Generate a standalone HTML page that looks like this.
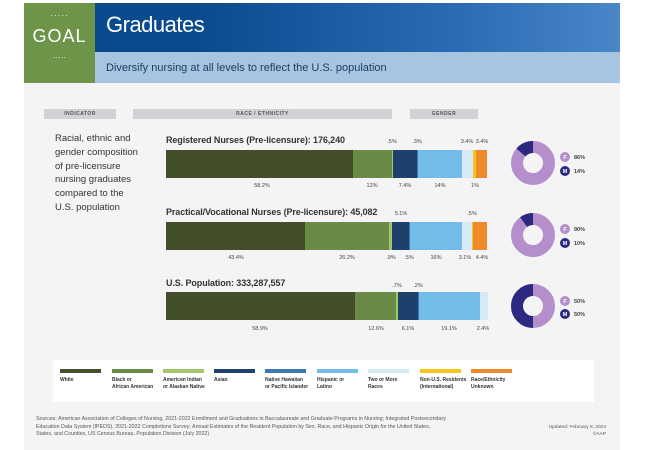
<!DOCTYPE html><html><head><style>
body{margin:0;width:650px;height:450px;background:#fff;font-family:"Liberation Sans",sans-serif;position:relative;overflow:hidden}
.a{position:absolute}
.hd{background:#d0d2d5;font-size:5px;font-weight:bold;color:#555;text-align:center;line-height:10px;letter-spacing:.5px}
.ti{font-size:9px;font-weight:bold;color:#333;letter-spacing:-.1px}
.lg{font-size:5px;color:#333;line-height:7px;font-weight:bold;white-space:nowrap}
.sw{height:4px;width:41px}
</style></head><body>
<div class="a" style="left:24px;top:83px;width:596px;height:367px;background:#f4f4f4"></div>
<div class="a" style="left:24px;top:3px;width:71px;height:80px;background:#6d9448;color:#fff;text-align:center">
<div style="font-size:8px;margin-top:8px;letter-spacing:1px">·····</div>
<div style="font-size:18px;margin-top:6px;letter-spacing:1px">GOAL</div>
<div style="font-size:8px;margin-top:6px">·····</div></div>
<div class="a" style="left:95px;top:3px;width:525px;height:49px;background:linear-gradient(90deg,#0a4a8f 20%,#2b6cb4 70%,#4a86c8)"></div>
<div class="a" style="left:106px;top:12px;color:#fff;font-size:22px;letter-spacing:-.5px">Graduates</div>
<div class="a" style="left:95px;top:52px;width:525px;height:31px;background:#a6c5e0"></div>
<div class="a" style="left:106px;top:62px;color:#1f3e62;font-size:11px">Diversify nursing at all levels to reflect the U.S. population</div>
<div class="a hd" style="left:44px;top:109px;width:72px">INDICATOR</div>
<div class="a hd" style="left:133px;top:109px;width:259px">RACE / ETHNICITY</div>
<div class="a hd" style="left:410px;top:109px;width:68px">GENDER</div>
<div class="a" style="left:55px;top:132px;font-size:9.5px;line-height:13.8px;color:#333;width:100px">Racial, ethnic and<br>gender composition<br>of pre-licensure<br>nursing graduates<br>compared to the<br>U.S. population</div>

<div class="a ti" style="left:166px;top:135px">Registered Nurses (Pre-licensure): 176,240</div>
<svg class="a" style="left:0;top:0" width="650" height="450">
<g>
<rect x="166" y="150" width="187" height="28" fill="#434f2a"/><rect x="353" y="150" width="39" height="28" fill="#6a8a48"/><rect x="392" y="150" width="1" height="28" fill="#a5c66b"/><rect x="393" y="150" width="24" height="28" fill="#1d416b"/><rect x="417" y="150" width="1" height="28" fill="#3a78b0"/><rect x="418" y="150" width="44" height="28" fill="#73bbe8"/><rect x="462" y="150" width="11" height="28" fill="#d4eaf7"/><rect x="473" y="150" width="3" height="28" fill="#f4c51b"/><rect x="476" y="150" width="11" height="28" fill="#ee8a2a"/>
<rect x="166" y="222" width="139" height="28" fill="#434f2a"/><rect x="305" y="222" width="84" height="28" fill="#6a8a48"/><rect x="389" y="222" width="3" height="28" fill="#a5c66b"/><rect x="392" y="222" width="17" height="28" fill="#1d416b"/><rect x="409" y="222" width="1" height="28" fill="#3a78b0"/><rect x="410" y="222" width="52" height="28" fill="#73bbe8"/><rect x="462" y="222" width="10" height="28" fill="#d4eaf7"/><rect x="472" y="222" width="1" height="28" fill="#f4c51b"/><rect x="473" y="222" width="14" height="28" fill="#ee8a2a"/>
<rect x="166" y="292" width="189" height="28" fill="#434f2a"/><rect x="355" y="292" width="41" height="28" fill="#6a8a48"/><rect x="396" y="292" width="2" height="28" fill="#a5c66b"/><rect x="398" y="292" width="20" height="28" fill="#1d416b"/><rect x="418" y="292" width="1" height="28" fill="#3a78b0"/><rect x="419" y="292" width="61" height="28" fill="#73bbe8"/><rect x="480" y="292" width="8" height="28" fill="#d4eaf7"/>
</g>
<g font-size="5.5" fill="#444" font-family="Liberation Sans" text-anchor="middle">
<text x="262" y="187">58.2%</text><text x="372" y="187">12%</text><text x="405" y="187">7.4%</text><text x="440" y="187">14%</text><text x="475" y="187">1%</text>
<text x="392" y="143">.5%</text><text x="417" y="143">.3%</text><text x="467" y="143">3.4%</text><text x="482" y="143">3.4%</text>
<text x="236" y="259">43.4%</text><text x="347" y="259">26.2%</text><text x="391" y="259">.9%</text><text x="409" y="259">.5%</text><text x="436" y="259">16%</text><text x="465" y="259">3.1%</text><text x="482" y="259">4.4%</text>
<text x="401" y="215">5.1%</text><text x="472" y="215">.5%</text>
<text x="260" y="330">58.9%</text><text x="376" y="330">12.6%</text><text x="408" y="330">6.1%</text><text x="449" y="330">19.1%</text><text x="483" y="330">2.4%</text>
<text x="397" y="287">.7%</text><text x="418" y="287">.2%</text>
</g>
<g fill="none" stroke-width="12">
<circle cx="533" cy="163" r="16" stroke="#b58fcb"/>
<path d="M533 147 A16 16 0 0 0 520.9 152.5" stroke="#2c2a80"/>
<circle cx="533" cy="235" r="16" stroke="#b58fcb"/>
<path d="M533 219 A16 16 0 0 0 523.6 222.1" stroke="#2c2a80"/>
<circle cx="533" cy="306" r="16" stroke="#b58fcb"/>
<path d="M533 290 A16 16 0 0 0 533 322" stroke="#2c2a80"/>
</g>
<g font-size="5.5" font-family="Liberation Sans" font-weight="bold">
<circle cx="565" cy="157" r="5" fill="#b58fcb"/><text x="565" y="159" fill="#fff" text-anchor="middle">F</text><text x="574" y="159" fill="#444">86%</text>
<circle cx="565" cy="171" r="5" fill="#2c2a80"/><text x="565" y="173" fill="#fff" text-anchor="middle">M</text><text x="574" y="173" fill="#444">14%</text>
<circle cx="565" cy="229" r="5" fill="#b58fcb"/><text x="565" y="231" fill="#fff" text-anchor="middle">F</text><text x="574" y="231" fill="#444">90%</text>
<circle cx="565" cy="243" r="5" fill="#2c2a80"/><text x="565" y="245" fill="#fff" text-anchor="middle">M</text><text x="574" y="245" fill="#444">10%</text>
<circle cx="565" cy="301" r="5" fill="#b58fcb"/><text x="565" y="303" fill="#fff" text-anchor="middle">F</text><text x="574" y="303" fill="#444">50%</text>
<circle cx="565" cy="314" r="5" fill="#2c2a80"/><text x="565" y="316" fill="#fff" text-anchor="middle">M</text><text x="574" y="316" fill="#444">50%</text>
</g>
</svg>
<div class="a ti" style="left:166px;top:207px">Practical/Vocational Nurses (Pre-licensure): 45,082</div>
<div class="a ti" style="left:166px;top:278px">U.S. Population: 333,287,557</div>

<div class="a" style="left:53px;top:360px;width:541px;height:42px;background:#fff"></div>
<div class="a lg" style="left:60px;top:369px"><div class="sw" style="background:#434f2a"></div><div style="margin-top:4px">White</div></div>
<div class="a lg" style="left:112px;top:369px"><div class="sw" style="background:#6a8a48"></div><div style="margin-top:4px">Black or<br>African American</div></div>
<div class="a lg" style="left:163px;top:369px"><div class="sw" style="background:#a5c66b"></div><div style="margin-top:4px">American Indian<br>or Alaskan Native</div></div>
<div class="a lg" style="left:214px;top:369px"><div class="sw" style="background:#1d416b"></div><div style="margin-top:4px">Asian</div></div>
<div class="a lg" style="left:265px;top:369px"><div class="sw" style="background:#3a78b0"></div><div style="margin-top:4px">Native Hawaiian<br>or Pacific Islander</div></div>
<div class="a lg" style="left:317px;top:369px"><div class="sw" style="background:#73bbe8"></div><div style="margin-top:4px">Hispanic or<br>Latino</div></div>
<div class="a lg" style="left:368px;top:369px"><div class="sw" style="background:#d4eaf7"></div><div style="margin-top:4px">Two or More<br>Races</div></div>
<div class="a lg" style="left:420px;top:369px"><div class="sw" style="background:#f4c51b"></div><div style="margin-top:4px">Non-U.S. Residents<br>(International)</div></div>
<div class="a lg" style="left:471px;top:369px"><div class="sw" style="background:#ee8a2a"></div><div style="margin-top:4px">Race/Ethnicity<br>Unknown</div></div>

<div class="a" style="left:36px;top:416px;font-size:5.3px;line-height:7.5px;color:#555;width:410px">Sources: American Association of Colleges of Nursing, 2021-2022 Enrollment and Graduations in Baccalaureate and Graduate Programs in Nursing; Integrated Postsecondary Education Data System (IPEDS), 2021-2022 Completions Survey; Annual Estimates of the Resident Population by Sex, Race, and Hispanic Origin for the United States, States, and Counties, US Census Bureau, Population Division (July 2022)</div>
<div class="a" style="left:520px;top:424px;font-size:4.8px;line-height:7px;color:#555;width:86px;text-align:right">Updated: February 8, 2024<br>©AAP</div>
</body></html>
